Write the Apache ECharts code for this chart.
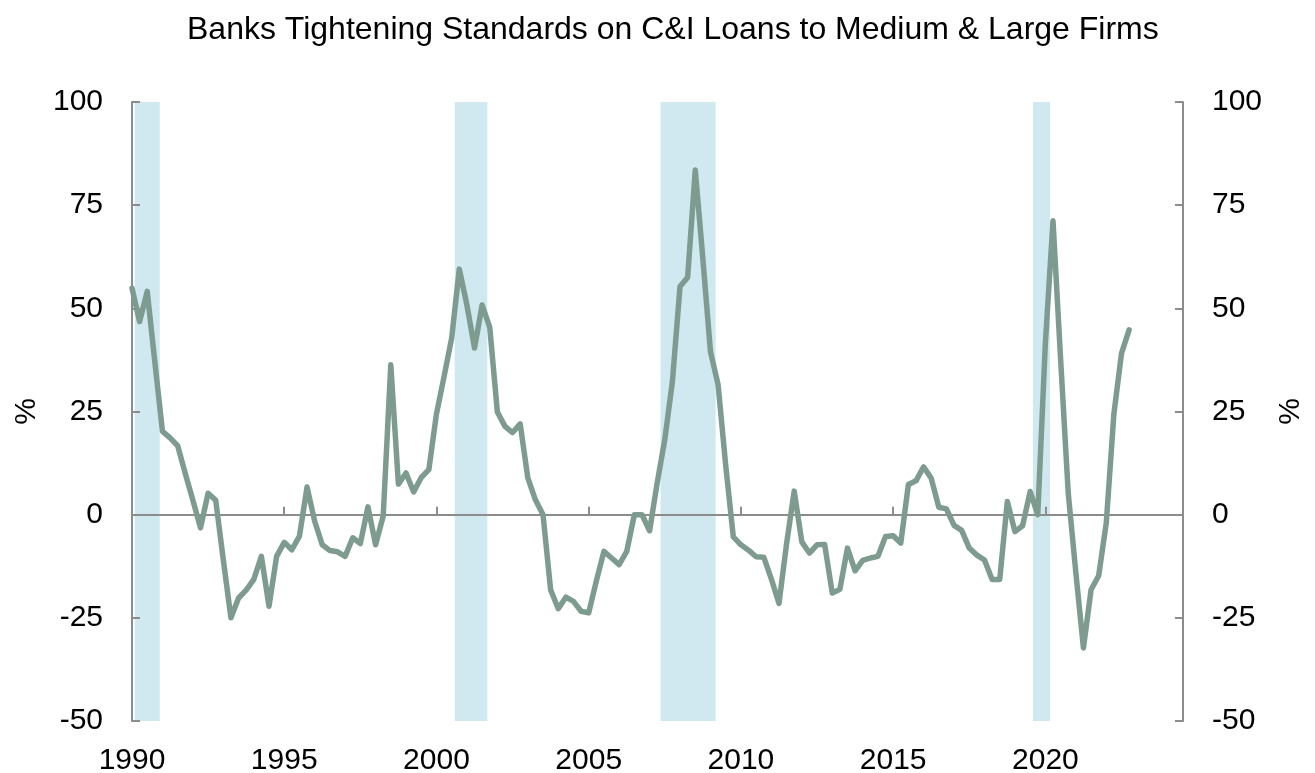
<!DOCTYPE html>
<html lang="en">
<head>
    <meta charset="UTF-8">
    <title>Banks Tightening Standards</title>
    <style>
        html, body { margin: 0; padding: 0; background: #fff; }
        #main { width: 1315px; height: 773px; }
    </style>
</head>
<body>
    <div id="main"></div>
    <script src="https://cdn.jsdelivr.net/npm/echarts@6/dist/echarts.min.js"></script>
    <script>
        // quarterly survey, first point 1990 Q1
        var startYear = 1990;
        var netTightening = [
            54.9, 46.8, 54.1, 37, 20.2, 18.6, 16.7, 10, 3.5, -3.2,
            5.2, 3.5, -11, -25, -20.2, -18.3, -15.7, -10.1, -22.2, -10.1,
            -6.7, -8.5, -5.2, 6.7, -1.6, -7.3, -8.7, -9.0, -10.1, -5.6,
            -7.0, 1.9, -7.3, -0.4, 36.3, 7.4, 10.1, 5.5, 9.0, 10.9,
            24.4, 33.5, 42.8, 59.5, 50.8, 40.4, 50.8, 45.4, 24.9, 21.4,
            19.9, 22.0, 8.9, 3.6, 0, -18.2, -22.8, -20.0, -21.0, -23.4,
            -23.8, -16.1, -8.9, -10.5, -12.1, -8.9, 0, 0, -3.9, 7.7,
            18.2, 32.3, 55.3, 57.5, 83.5, 62, 39.5, 31.5, 12, -5.4,
            -7.3, -8.6, -10.2, -10.3, -15.6, -21.5, -7, 5.7, -6.6, -9.3,
            -7.3, -7.2, -19.0, -18.1, -8.1, -13.6, -11.1, -10.5, -10.1, -5.3,
            -5.1, -6.9, 7.3, 8.2, 11.6, 8.8, 1.8, 1.4, -2.6, -3.8,
            -8.1, -9.8, -11.0, -15.7, -15.7, 3.2, -4.1, -2.7, 5.6, 0,
            41.6, 71.2, 37.7, 5.3, -14, -32.3, -18.2, -14.8, -2.0, 24.4,
            39.1, 44.8
        ];
        // shaded recession periods (decimal years)
        var recessions = [
            [1990.09, 1990.91],
            [2000.60, 2001.67],
            [2007.36, 2009.17],
            [2019.59, 2020.15]
        ];
        var yTicks = [-50, -25, 0, 25, 50, 75, 100];

        var points = netTightening.map(function (v, i) {
            return [startYear + i / 4, v];
        });

        var font = 'Liberation Sans, Arial, sans-serif';
        var axisGray = '#8c8c8c';

        var myChart = echarts.init(document.getElementById('main'));

        var yAxisBase = function (pos, gap) {
            return {
                type: 'value',
                position: pos,
                min: yTicks[0],
                max: yTicks[yTicks.length - 1],
                interval: 25,
                z: 2,
                name: '%',
                nameLocation: 'middle',
                nameGap: gap,
                nameTextStyle: { fontFamily: font, fontSize: 30, color: '#000' },
                axisLine: { show: true, onZero: false, lineStyle: { color: axisGray, width: 2 } },
                axisTick: { show: true, inside: true, length: 8, lineStyle: { color: axisGray, width: 2 } },
                axisLabel: { fontFamily: font, fontSize: 30, color: '#000', margin: 29 },
                splitLine: { show: false }
            };
        };

        var option = {
            animation: false,
            backgroundColor: '#fff',
            title: {
                text: 'Banks Tightening Standards on C&I Loans to Medium & Large Firms',
                left: 182,
                top: 9,
                textStyle: { fontFamily: font, fontSize: 32, fontWeight: 'normal', color: '#000' }
            },
            grid: { left: 132, right: 132, top: 102, bottom: 52, outerBoundsMode: 'none', containLabel: false },
            xAxis: [
                {
                    // labels along the bottom
                    type: 'value',
                    min: 1990,
                    max: 2024.52,
                    interval: 5,
                    axisLine: { show: false, onZero: false },
                    axisTick: { show: false },
                    splitLine: { show: false },
                    axisLabel: {
                        fontFamily: font, fontSize: 30, color: '#000', margin: 25,
                        formatter: function (v) { return v % 5 === 0 ? String(v) : ''; }
                    }
                },
                {
                    // zero line with ticks
                    type: 'value',
                    position: 'bottom',
                    min: 1990,
                    max: 2024.52,
                    interval: 5,
                    z: 2,
                    axisLine: { show: true, onZero: true, lineStyle: { color: axisGray, width: 2 } },
                    axisTick: { show: true, inside: true, length: 8, lineStyle: { color: axisGray, width: 2 } },
                    axisLabel: { show: false },
                    splitLine: { show: false }
                }
            ],
            yAxis: [yAxisBase('left', 86), yAxisBase('right', 93)],
            series: [{
                type: 'line',
                xAxisIndex: 0,
                yAxisIndex: 0,
                data: points,
                showSymbol: false,
                z: 3,
                lineStyle: { color: '#7e9b90', width: 5.5, join: 'round', cap: 'round' },
                markArea: {
                    silent: true,
                    z: 1,
                    itemStyle: { color: '#d0e8ef' },
                    data: recessions.map(function (r) {
                        return [{ xAxis: r[0] }, { xAxis: r[1] }];
                    })
                }
            }]
        };

        myChart.setOption(option);
    </script>
</body>
</html>
